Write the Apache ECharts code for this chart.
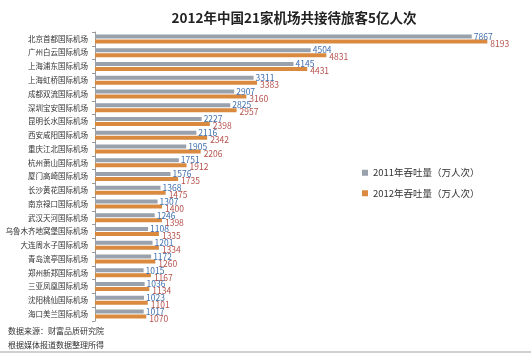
<!DOCTYPE html>
<html>
<head>
<meta charset="utf-8">
<script src="https://cdn.jsdelivr.net/npm/echarts@6/dist/echarts.min.js"></script>
<style>
html, body { margin: 0; padding: 0; background: #fff; }
#chart { width: 531px; height: 354px; }
</style>
</head>
<body>
<div id="chart"></div>
<script>
var airports = ['北京首都国际机场', '广州白云国际机场', '上海浦东国际机场', '上海虹桥国际机场',
    '成都双流国际机场', '深圳宝安国际机场', '昆明长水国际机场', '西安咸阳国际机场',
    '重庆江北国际机场', '杭州萧山国际机场', '厦门高崎国际机场', '长沙黄花国际机场',
    '南京禄口国际机场', '武汉天河国际机场', '乌鲁木齐地窝堡国际机场', '大连周水子国际机场',
    '青岛流亭国际机场', '郑州新郑国际机场', '三亚凤凰国际机场', '沈阳桃仙国际机场',
    '海口美兰国际机场'];
var data2011 = [7867, 4504, 4145, 3311, 2907, 2825, 2227, 2116, 1905, 1751, 1576,
    1368, 1307, 1246, 1108, 1201, 1172, 1015, 1036, 1023, 1017];
var data2012 = [8193, 4831, 4431, 3383, 3160, 2957, 2398, 2342, 2206, 1912, 1735,
    1475, 1400, 1398, 1335, 1334, 1260, 1167, 1134, 1101, 1070];
var seriesNames = ['2011年吞吐量（万人次）', '2012年吞吐量（万人次）'];

var chart = echarts.init(document.getElementById('chart'), null, {renderer: 'canvas'});
var font = '"Noto Sans CJK SC", sans-serif';

chart.setOption({
    backgroundColor: '#fff',
    animation: false,
    title: {
        text: '2012年中国21家机场共接待旅客5亿人次',
        left: 289, top: 6, textAlign: 'center',
        textStyle: {fontFamily: font, fontSize: 13.5, fontWeight: 'bold', color: '#222'}
    },
    legend: {
        orient: 'vertical', left: 357, top: 163, itemGap: 11,
        itemWidth: 6, itemHeight: 6, icon: 'rect',
        textStyle: {fontFamily: font, fontSize: 9.5, color: '#333'},
        data: seriesNames
    },
    grid: {left: 95, right: 5, top: 32, bottom: 33, containLabel: false},
    xAxis: {
        type: 'value', min: 0, max: 9000, show: false
    },
    yAxis: {
        type: 'category', inverse: true, data: airports,
        axisLine: {lineStyle: {color: '#999'}},
        axisTick: {show: true, length: 3, lineStyle: {color: '#999'}},
        axisLabel: {fontFamily: font, fontSize: 7.5, color: '#333', margin: 7}
    },
    graphic: [
        {type: 'text', left: 8, top: 327, style: {text: '数据来源：财富品质研究院', font: '8px ' + font, fill: '#333'}},
        {type: 'text', left: 8, top: 341, style: {text: '根据媒体报道数据整理所得', font: '8px ' + font, fill: '#333'}},
        {type: 'rect', shape: {x: 0, y: 351, width: 531, height: 2}, style: {fill: '#d0d0d0'}}
    ],
    series: [
        {
            name: seriesNames[0], type: 'bar', data: data2011,
            barWidth: 4, barGap: '25%',
            itemStyle: {color: '#98a1ac'},
            label: {show: true, position: 'right', distance: 2, offset: [0, 0],
                fontFamily: font, fontSize: 8.5, color: '#3f6fae'}
        },
        {
            name: seriesNames[1], type: 'bar', data: data2012,
            barWidth: 4,
            itemStyle: {color: '#d98a3e'},
            label: {show: true, position: 'right', distance: 3, offset: [0, 2],
                fontFamily: font, fontSize: 8.5, color: '#b5514c'}
        }
    ]
});
</script>
</body>
</html>
